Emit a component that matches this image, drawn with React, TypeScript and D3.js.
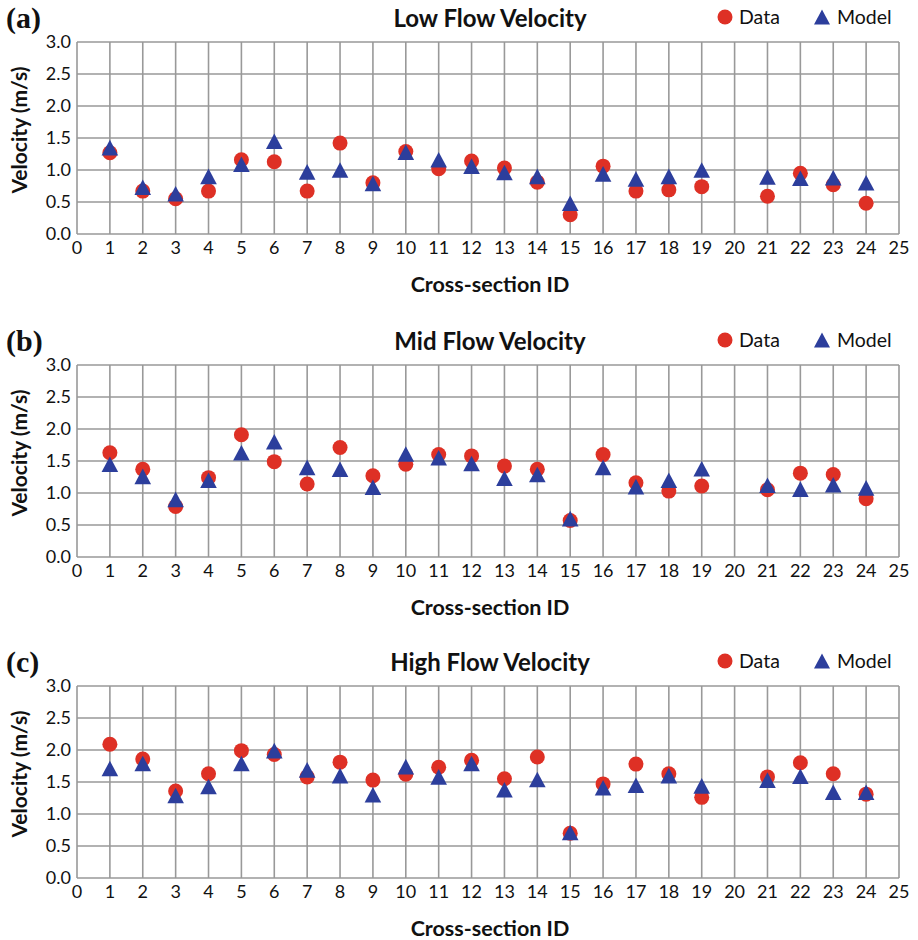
import React, { useRef, useEffect } from 'react';
import * as d3 from 'd3';

const sectionIds = [1, 2, 3, 4, 5, 6, 7, 8, 9, 10, 11, 12, 13, 14, 15, 16, 17, 18, 19, 21, 22, 23, 24];
const xTicks = d3.range(0, 26);
const yTicks = [0, 0.5, 1.0, 1.5, 2.0, 2.5, 3.0];

const lowData = [1.27, 0.67, 0.55, 0.67, 1.16, 1.13, 0.67, 1.42, 0.8, 1.29, 1.02, 1.14, 1.03, 0.81, 0.3, 1.06, 0.67, 0.69, 0.74, 0.59, 0.95, 0.77, 0.48];
const lowModel = [1.35, 0.73, 0.63, 0.9, 1.09, 1.45, 0.97, 1.0, 0.79, 1.28, 1.16, 1.06, 0.96, 0.9, 0.48, 0.94, 0.86, 0.9, 1.0, 0.89, 0.87, 0.88, 0.8];

const midData = [1.63, 1.37, 0.79, 1.24, 1.91, 1.49, 1.14, 1.71, 1.27, 1.45, 1.6, 1.58, 1.42, 1.37, 0.57, 1.6, 1.16, 1.03, 1.11, 1.05, 1.31, 1.29, 0.91];
const midModel = [1.45, 1.26, 0.9, 1.2, 1.63, 1.8, 1.4, 1.37, 1.09, 1.61, 1.55, 1.46, 1.23, 1.29, 0.6, 1.4, 1.1, 1.2, 1.38, 1.12, 1.06, 1.13, 1.08];

const highData = [2.09, 1.86, 1.36, 1.63, 1.99, 1.93, 1.58, 1.81, 1.53, 1.62, 1.73, 1.84, 1.55, 1.89, 0.7, 1.47, 1.78, 1.63, 1.26, 1.58, 1.8, 1.63, 1.31];
const highModel = [1.71, 1.79, 1.29, 1.43, 1.79, 1.99, 1.69, 1.6, 1.3, 1.74, 1.58, 1.79, 1.38, 1.54, 0.71, 1.41, 1.45, 1.6, 1.44, 1.53, 1.59, 1.34, 1.34];

const panels = [
  { tag: '(a)', title: 'Low Flow Velocity', data: lowData, model: lowModel, top: 42 },
  { tag: '(b)', title: 'Mid Flow Velocity', data: midData, model: midModel, top: 365 },
  { tag: '(c)', title: 'High Flow Velocity', data: highData, model: highModel, top: 686 },
];

const RED = '#de3025';
const BLUE = '#2c3e9c';
const GRID = '#999999';
const FONT = 'Lato, "Open Sans", sans-serif';

// triangle centred on its bounding box, like the spreadsheet markers
const tri = (cx, cy, hw, hh) => `M${cx},${cy - hh}L${cx + hw},${cy + hh}L${cx - hw},${cy + hh}Z`;

const App = () => {
  const ref = useRef(null);

  useEffect(() => {
    const svg = d3.select(ref.current);
    svg.selectAll('*').remove();

    const left = 77, right = 899, h = 192;
    const x = d3.scaleLinear().domain([0, 25]).range([left, right]);

    panels.forEach((p) => {
      const y = d3.scaleLinear().domain([0, 3]).range([p.top + h, p.top]);
      const g = svg.append('g');

      // grid
      g.selectAll('.vg').data(xTicks).join('line')
        .attr('x1', (d) => x(d)).attr('x2', (d) => x(d))
        .attr('y1', p.top).attr('y2', p.top + h)
        .attr('stroke', GRID).attr('stroke-width', 1.6);
      g.selectAll('.hg').data(yTicks).join('line')
        .attr('x1', left).attr('x2', right)
        .attr('y1', (d) => y(d)).attr('y2', (d) => y(d))
        .attr('stroke', GRID).attr('stroke-width', 1.6);

      // tick labels
      g.selectAll('.yt').data(yTicks).join('text')
        .attr('x', left - 6).attr('y', (d) => y(d)).attr('dy', '0.35em')
        .attr('text-anchor', 'end').attr('font-family', FONT).attr('font-size', 18).attr('fill', '#111')
        .text((d) => d.toFixed(1));
      g.selectAll('.xt').data(xTicks).join('text')
        .attr('x', (d) => x(d)).attr('y', p.top + h + 20)
        .attr('text-anchor', 'middle').attr('font-family', FONT).attr('font-size', 18).attr('fill', '#111')
        .text((d) => d);

      // axis titles
      g.append('text')
        .attr('x', 490).attr('y', p.top + h + 58)
        .attr('text-anchor', 'middle').attr('font-family', FONT).attr('font-weight', 'bold')
        .attr('font-size', 21.5).attr('fill', '#111').text('Cross-section ID');
      g.append('text')
        .attr('transform', `translate(27,${p.top + h / 2 - 8}) rotate(-90)`)
        .attr('text-anchor', 'middle').attr('font-family', FONT).attr('font-weight', 'bold')
        .attr('font-size', 21).attr('fill', '#111').text('Velocity (m/s)');

      // panel tag and title
      g.append('text')
        .attr('x', 6).attr('y', p.top - 14)
        .attr('font-family', '"Liberation Serif", "DejaVu Serif", serif').attr('font-weight', 'bold')
        .attr('font-size', 30).attr('fill', '#111').text(p.tag);
      g.append('text')
        .attr('x', 490).attr('y', p.top - 15)
        .attr('text-anchor', 'middle').attr('font-family', FONT).attr('font-weight', 'bold')
        .attr('font-size', 24).attr('fill', '#111').text(p.title);

      // legend
      const ly = p.top - 25;
      g.append('circle').attr('cx', 725).attr('cy', ly).attr('r', 7.5).attr('fill', RED);
      g.append('text').attr('x', 739).attr('y', ly).attr('dy', '0.35em')
        .attr('font-family', FONT).attr('font-size', 19.5).attr('fill', '#111').text('Data');
      g.append('path').attr('d', tri(822, ly, 8, 7.5)).attr('fill', BLUE);
      g.append('text').attr('x', 837).attr('y', ly).attr('dy', '0.35em')
        .attr('font-family', FONT).attr('font-size', 19.5).attr('fill', '#111').text('Model');

      // markers
      g.selectAll('.dot').data(p.data).join('circle')
        .attr('cx', (d, i) => x(sectionIds[i])).attr('cy', (d) => y(d))
        .attr('r', 7.5).attr('fill', RED);
      g.selectAll('.tri').data(p.model).join('path')
        .attr('d', (d, i) => tri(x(sectionIds[i]), y(d), 8.3, 7.8))
        .attr('fill', BLUE);
    });
  }, []);

  return (
    <div style={{ position: 'absolute', left: 0, top: 0 }}>
      <svg ref={ref} width={918} height={940} style={{ display: 'block', background: '#fff' }}></svg>
    </div>
  );
};

export default App;
